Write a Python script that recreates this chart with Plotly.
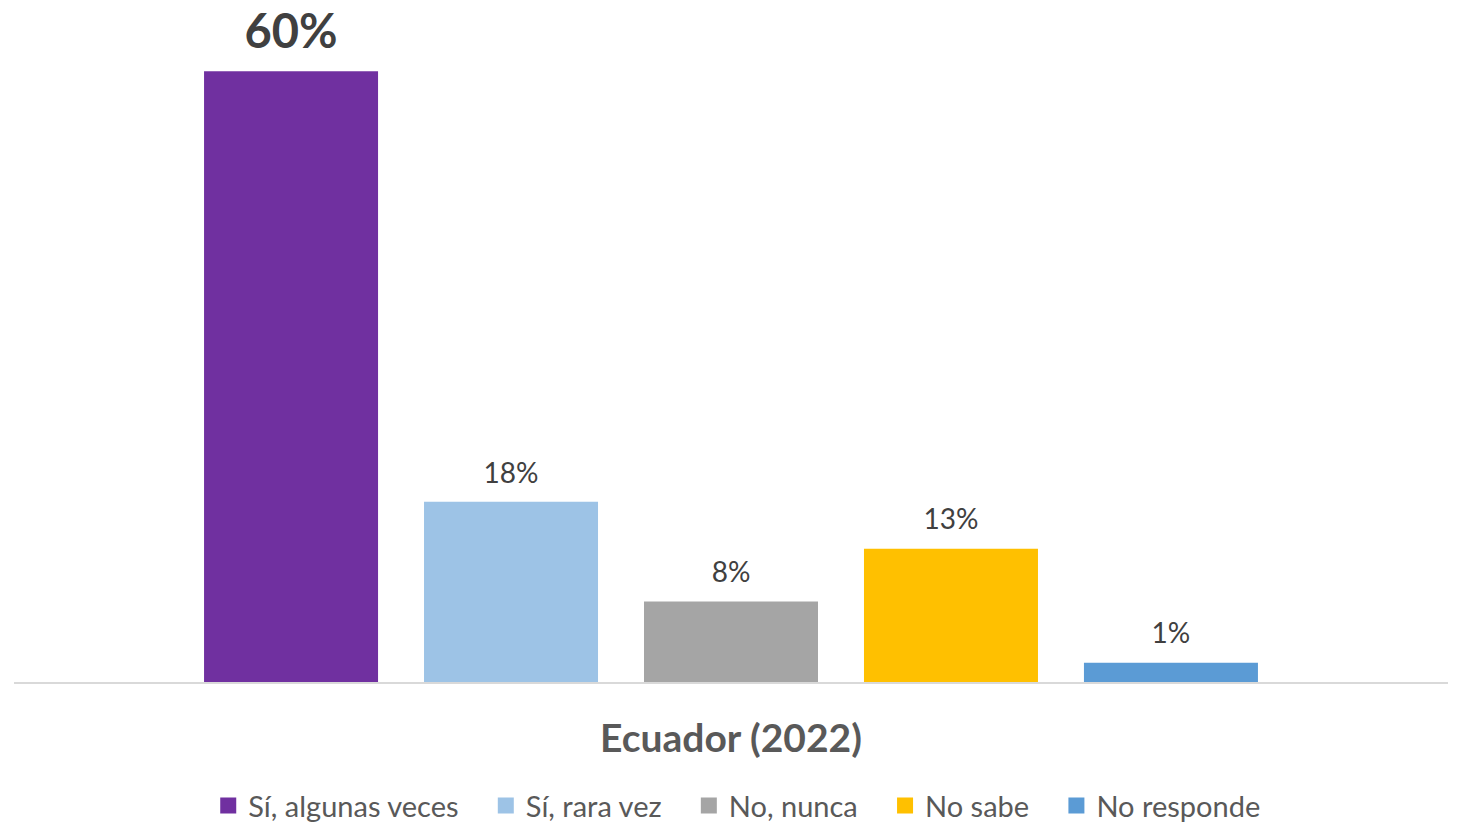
import plotly.graph_objects as go

# ---- data ----
category = ["Ecuador (2022)"]
series_names = ["Sí, algunas veces", "Sí, rara vez", "No, nunca", "No sabe", "No responde"]
series_values = [60, 17.7, 7.9, 13.1, 1.9]
series_labels = ["60%", "18%", "8%", "13%", "1%"]

colors = ["#7030A0", "#9DC3E6", "#A5A5A5", "#FFC000", "#5B9BD5"]
label_sizes = [47, 28, 28, 28, 28]
label_bold = [True, False, False, False, False]

FONT = "Lato"
label_gap = 1.0  # space between bar top and its label, in axis units
legend_pad = "\u00a0" * 3  # extra room between legend entries

fig = go.Figure()

for i, (name, val, lab, col, size, bold) in enumerate(zip(series_names, series_values, series_labels,
                                                          colors, label_sizes, label_bold)):
    # the bar itself
    fig.add_trace(go.Bar(
        x=category, y=[val], name=name, offsetgroup=name,
        marker=dict(color=col, line=dict(width=0)), showlegend=False,
        hovertemplate=f"<b>{name}</b>: {lab}<extra></extra>",
    ))
    # invisible cap that carries the value label a bit above the bar
    fig.add_trace(go.Bar(
        x=category, y=[label_gap], base=[val], offsetgroup=name,
        marker=dict(color="rgba(0,0,0,0)", line=dict(width=0)),
        showlegend=False, hoverinfo="skip",
        text=[f"<b>{lab}</b>" if bold else lab], textposition="outside",
        textfont=dict(family=FONT, size=size, color="#404040"),
        cliponaxis=False,
    ))
    # legend swatch
    pad = legend_pad if i < len(series_names) - 1 else ""
    fig.add_trace(go.Scatter(
        x=[None], y=[None], mode="markers", name=name + pad,
        marker=dict(symbol="square", size=16, color=col),
    ))

fig.update_layout(
    width=1463, height=823, autosize=False,
    barmode="group", bargap=0.233, bargroupgap=0.209,
    paper_bgcolor="white", plot_bgcolor="white",
    margin=dict(l=14, r=15, t=0, b=141),
    font=dict(family=FONT, color="#595959"),
    showlegend=True,
    legend=dict(
        orientation="h", x=0.504, xanchor="center",
        yref="container", y=0.021, yanchor="middle",
        font=dict(family=FONT, size=29, color="#595959"),
        itemclick=False,
    ),
    xaxis=dict(
        showline=True, linecolor="#D9D9D9", linewidth=2,
        ticks="", tickvals=category, ticktext=["<b>Ecuador (2022)</b>"],
        tickfont=dict(family=FONT, size=39, color="#595959"),
        ticklabelstandoff=21,
    ),
    yaxis=dict(range=[0, 67], visible=False, showgrid=False, zeroline=False),
)

fig.write_html("out.html", config={"displayModeBar": False},
               post_script="document.body.style.margin='0';")
